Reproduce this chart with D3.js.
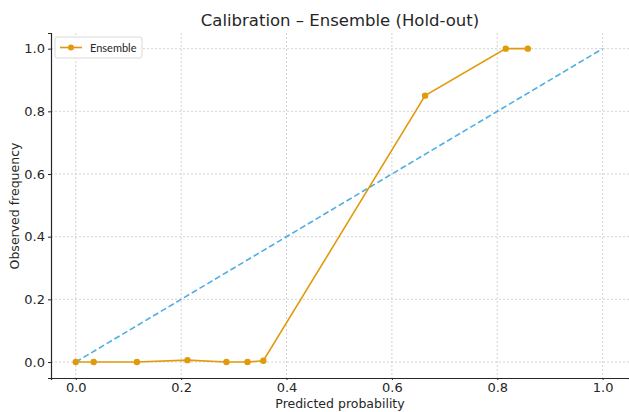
<!DOCTYPE html>
<html>
<head>
<meta charset="utf-8">
<script src="https://cdn.jsdelivr.net/npm/d3@7"></script>
<style>
  body { margin: 0; background: #fff; }
  text { font-family: "DejaVu Sans", sans-serif; fill: #262626; }
</style>
</head>
<body>
<svg id="chart" width="629" height="412"></svg>
<script>
// calibration curve points (mean predicted, fraction of positives)
var predicted = [0.0, 0.034, 0.116, 0.212, 0.286, 0.326, 0.356, 0.663, 0.816, 0.858];
var observed  = [0.0, 0.0,   0.0,   0.006, 0.0,   0.0,   0.004, 0.850, 1.0,   1.0];
var diagonal  = [0, 1];
var tickValues = [0.0, 0.2, 0.4, 0.6, 0.8, 1.0];

var svg = d3.select('#chart');
var margin = { left: 51, right: 0, top: 33, bottom: 34 };
var width = 629, height = 412;

var x = d3.scaleLinear().domain([-0.047, 1.05]).range([margin.left, width - margin.right]);
var y = d3.scaleLinear().domain([-0.051, 1.05]).range([height - margin.bottom, margin.top]);

var orange = '#E19A0C';
var blue = '#4FAEE3';

// grid
var grid = svg.append('g');
tickValues.forEach(function (t) {
  grid.append('line')
    .attr('x1', x(t)).attr('x2', x(t))
    .attr('y1', y.range()[1]).attr('y2', y.range()[0])
    .attr('stroke', '#c8c8c8').attr('stroke-width', 0.8).attr('stroke-dasharray', '2,2');
  grid.append('line')
    .attr('y1', y(t)).attr('y2', y(t))
    .attr('x1', x.range()[0]).attr('x2', x.range()[1])
    .attr('stroke', '#c8c8c8').attr('stroke-width', 0.8).attr('stroke-dasharray', '2,2');
});

// diagonal reference
svg.append('path')
  .datum(diagonal)
  .attr('d', d3.line().x(function (d) { return x(d); }).y(function (d) { return y(d); }))
  .attr('fill', 'none')
  .attr('stroke', blue)
  .attr('stroke-width', 1.6)
  .attr('stroke-dasharray', '6,3');

// calibration curve
var pts = predicted.map(function (p, i) { return [p, observed[i]]; });
svg.append('path')
  .datum(pts)
  .attr('d', d3.line().x(function (d) { return x(d[0]); }).y(function (d) { return y(d[1]); }))
  .attr('fill', 'none')
  .attr('stroke', orange)
  .attr('stroke-width', 1.6);

svg.selectAll('.pt')
  .data(pts)
  .enter()
  .append('circle')
  .attr('class', 'pt')
  .attr('cx', function (d) { return x(d[0]); })
  .attr('cy', function (d) { return y(d[1]); })
  .attr('r', 3.2)
  .attr('fill', orange);

// axes
var xAxis = svg.append('g')
  .attr('transform', 'translate(0,' + y.range()[0] + ')')
  .call(d3.axisBottom(x).tickValues(tickValues).tickFormat(d3.format('.1f')).tickSizeOuter(0).tickSize(2).tickPadding(3));
var yAxis = svg.append('g')
  .attr('transform', 'translate(' + x.range()[0] + ',0)')
  .call(d3.axisLeft(y).tickValues(tickValues).tickFormat(d3.format('.1f')).tickSizeOuter(0).tickSize(3).tickPadding(3));

[xAxis, yAxis].forEach(function (a) {
  a.select('.domain').attr('stroke', '#262626').attr('stroke-width', 1.2);
  a.selectAll('.tick line').attr('stroke', '#262626');
  a.selectAll('.tick text').style('font-size', '13px').style('font-family', '"DejaVu Sans", sans-serif').attr('fill', '#262626');
});

// titles
svg.append('text')
  .attr('x', 340).attr('y', 26)
  .attr('text-anchor', 'middle')
  .style('font-size', '16.5px')
  .text('Calibration – Ensemble (Hold-out)');

svg.append('text')
  .attr('x', 340).attr('y', 408)
  .attr('text-anchor', 'middle')
  .style('font-size', '12.5px')
  .text('Predicted probability');

svg.append('text')
  .attr('transform', 'translate(19,206) rotate(-90)')
  .attr('text-anchor', 'middle')
  .style('font-size', '12.5px')
  .text('Observed frequency');

// legend
var lg = svg.append('g').attr('transform', 'translate(55,37)');
lg.append('rect')
  .attr('width', 87).attr('height', 21).attr('rx', 2)
  .attr('fill', '#fff').attr('fill-opacity', 0.85)
  .attr('stroke', '#d0d0d0').attr('stroke-width', 0.8);
lg.append('line')
  .attr('x1', 5).attr('x2', 27).attr('y1', 10.5).attr('y2', 10.5)
  .attr('stroke', orange).attr('stroke-width', 1.6);
lg.append('circle').attr('cx', 16).attr('cy', 10.5).attr('r', 3).attr('fill', orange);
lg.append('text')
  .attr('x', 35).attr('y', 14.5)
  .style('font-size', '11px')
  .style('font-family', 'Lato, sans-serif')
  .text('Ensemble');
</script>
</body>
</html>
